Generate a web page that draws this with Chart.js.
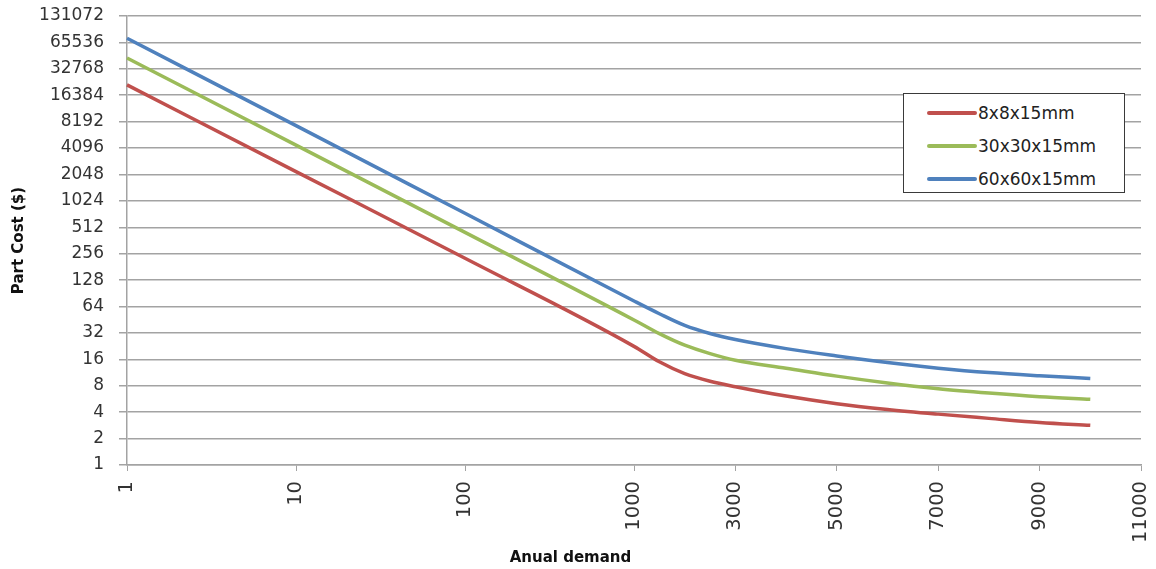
<!DOCTYPE html>
<html>
<head>
<meta charset="utf-8">
<script src="https://cdn.jsdelivr.net/npm/chart.js@4.4.1/dist/chart.umd.min.js"></script>
<style>
  html, body { margin: 0; padding: 0; background: #ffffff; }
  #wrap { position: relative; width: 1156px; height: 569px; }
  #legend {
    position: absolute; left: 903px; top: 93px; width: 220px; height: 98px;
    border: 1.5px solid #3a3a3a; background: #ffffff;
    font-family: "DejaVu Sans", sans-serif; font-size: 17px; color: #222;
  }
  .item { position: absolute; left: 23px; height: 20px; display: flex; align-items: center; }
  .swatch { width: 50px; height: 3.5px; border-radius: 2px; }
  .lbl { margin-left: 1px; white-space: nowrap; }
</style>
</head>
<body>
<div id="wrap">
  <canvas id="c" width="1156" height="569"></canvas>
  <div id="legend"></div>
</div>
<script>
// ---- data ----
const demand  = [1, 10, 100, 1000, 1500, 2000, 2500, 3000, 4000, 5000, 6000, 7000, 8000, 9000, 10000];
const cost8   = [21500, 2210, 227, 22.5, 15, 11, 9, 7.8, 6.1, 5.0, 4.3, 3.8, 3.4, 3.05, 2.83];
const cost30  = [43600, 4430, 448, 45, 31.4, 23.2, 18.6, 15.6, 12.7, 10.3, 8.6, 7.4, 6.6, 6.0, 5.6];
const cost60  = [73000, 7380, 739, 74, 53, 39, 31.5, 26.9, 21.2, 17.5, 14.7, 12.7, 11.3, 10.4, 9.7];
const seriesNames  = ['8x8x15mm', '30x30x15mm', '60x60x15mm'];
const seriesColors = ['#C0504D', '#9BBB59', '#4F81BD'];
const xTickValues = [1, 10, 100, 1000, 3000, 5000, 7000, 9000, 11000];
const yTickValues = [1, 2, 4, 8, 16, 32, 64, 128, 256, 512, 1024, 2048, 4096, 8192, 16384, 32768, 65536, 131072];

// Axis of the original: logarithmic up to 1000, linear (2000 per step) after it.
function axisPos(v) { return v <= 1000 ? Math.log10(v) * 5 : 15 + (v - 1000) * 3 / 2000; }
function axisInv(p) { return p <= 15 ? Math.pow(10, p / 5) : 1000 + (p - 15) * 2000 / 3; }

class DemandScale extends Chart.LinearScale {
  determineDataLimits() {
    this.min = xTickValues[0];
    this.max = xTickValues[xTickValues.length - 1];
  }
  buildTicks() { return xTickValues.map(v => ({ value: v })); }
  getPixelForValue(v) {
    const a = axisPos(this.min), b = axisPos(this.max);
    return this.getPixelForDecimal((axisPos(v) - a) / (b - a));
  }
  getValueForPixel(px) {
    const a = axisPos(this.min), b = axisPos(this.max);
    return axisInv(a + this.getDecimalForPixel(px) * (b - a));
  }
}
DemandScale.id = 'demand';
DemandScale.defaults = Chart.LinearScale.defaults;
Chart.register(DemandScale);

const seriesData = [cost8, cost30, cost60];
const datasets = seriesNames.map((name, i) => ({
  label: name,
  data: demand.map((d, j) => ({ x: d, y: seriesData[i][j] })),
  borderColor: seriesColors[i],
  backgroundColor: seriesColors[i],
  borderWidth: 3.5,
  pointRadius: 0,
  cubicInterpolationMode: 'monotone',
  fill: false
}));

const gridColor = '#a3a3a3';
new Chart(document.getElementById('c'), {
  type: 'line',
  data: { datasets },
  options: {
    responsive: false,
    animation: false,
    layout: { padding: { left: 0, right: 15, top: 0, bottom: 0 } },
    plugins: {
      legend: { display: false },
      tooltip: { enabled: false },
      title: {
        display: true, position: 'bottom', text: 'Anual demand', color: '#111',
        font: { family: 'DejaVu Sans', size: 15, weight: 'bold' },
        padding: { top: 4, bottom: 2 }
      }
    },
    scales: {
      x: {
        type: 'demand',
        grid: { drawOnChartArea: false, drawTicks: true, tickLength: 6, color: gridColor },
        border: { color: gridColor, width: 1.5 },
        ticks: {
          autoSkip: false, minRotation: 90, maxRotation: 90, padding: 10,
          color: '#333', font: { family: 'DejaVu Sans', size: 19.5 },
          callback: v => String(v)
        },
        afterFit: s => { s.paddingLeft = 0; s.paddingRight = 0; s.height = 80; }
      },
      y: {
        type: 'logarithmic', min: 1, max: 131072,
        afterBuildTicks: axis => { axis.ticks = yTickValues.map(v => ({ value: v })); },
        grid: { color: gridColor, lineWidth: 1.5, tickLength: 8 },
        border: { color: gridColor, width: 1.5 },
        ticks: {
          padding: 15, color: '#333', font: { family: 'DejaVu Sans', size: 17 },
          callback: v => String(v)
        },
        title: {
          display: true, text: 'Part Cost ($)', color: '#111',
          font: { family: 'DejaVu Sans', size: 15, weight: 'bold' },
          padding: { top: 10, bottom: 0 }
        },
        afterFit: s => { s.width = 127; s.paddingTop = 16; s.paddingBottom = 0; }
      }
    }
  }
});

// legend built from the series
const leg = document.getElementById('legend');
seriesNames.forEach((name, i) => {
  const it = document.createElement('div');
  it.className = 'item';
  it.style.top = (9 + i * 33) + 'px';
  it.innerHTML = '<div class="swatch" style="background:' + seriesColors[i] + '"></div><span class="lbl">' + name + '</span>';
  leg.appendChild(it);
});
</script>
</body>
</html>
